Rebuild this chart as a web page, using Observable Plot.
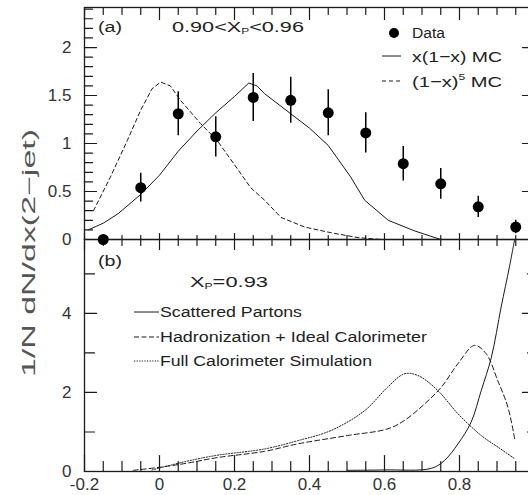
<!DOCTYPE html>
<html><head><meta charset="utf-8">
<script src="https://cdn.jsdelivr.net/npm/d3@7"></script>
<script src="https://cdn.jsdelivr.net/npm/@observablehq/plot@0.6"></script>
<style>
html,body{margin:0;padding:0;background:#fff;}
#wrap{position:relative;width:528px;height:495px;overflow:hidden;background:#fff;}
#wrap svg{position:absolute;left:0;}
</style></head><body><div id="wrap"></div>
<script>
// ---------- data ----------
const xBins    = [-0.15,-0.05,0.05,0.15,0.25,0.35,0.45,0.55,0.65,0.75,0.85,0.95];
const dataY    = [0,0.54,1.31,1.07,1.48,1.45,1.32,1.11,0.79,0.58,0.34,0.13];
const dataErr  = [0,0.15,0.23,0.21,0.25,0.24,0.24,0.21,0.18,0.16,0.11,0.07];

const mcLinX = [-0.19,-0.15,-0.11,-0.05,0.0,0.05,0.1,0.15,0.2,0.238,0.26,0.28,0.35,0.4,0.45,0.51,0.547,0.61,0.68,0.75];
const mcLinY = [0.10,0.17,0.27,0.47,0.67,0.92,1.13,1.32,1.49,1.63,1.60,1.52,1.31,1.16,0.98,0.65,0.41,0.20,0.09,0.0];

const mcPowX = [-0.176,-0.131,-0.086,-0.051,-0.02,0.003,0.029,0.056,0.109,0.154,0.198,0.243,0.28,0.324,0.387,0.458,0.529,0.59];
const mcPowY = [0.30,0.65,1.03,1.34,1.57,1.64,1.60,1.45,1.21,1.03,0.79,0.54,0.41,0.23,0.13,0.07,0.02,0.0];

const partonX = [0.50,0.6,0.725,0.76,0.796,0.831,0.858,0.885,0.911,0.933,0.947];
const partonY = [0.03,0.04,0.08,0.28,0.70,1.25,2.05,2.89,4.16,5.17,5.87];

const hadX = [-0.07,0.003,0.073,0.153,0.28,0.369,0.502,0.609,0.653,0.707,0.752,0.796,0.84,0.871,0.902,0.929,0.948];
const hadY = [0.03,0.11,0.21,0.35,0.51,0.70,0.91,1.08,1.29,1.71,2.14,2.73,3.19,2.98,2.30,1.63,0.78];

const calX = [-0.02,0.073,0.153,0.28,0.369,0.458,0.547,0.609,0.653,0.689,0.742,0.796,0.858,0.902,0.948];
const calY = [0.04,0.26,0.41,0.57,0.78,1.04,1.54,2.14,2.47,2.43,2.05,1.46,0.91,0.62,0.32];

const xTickLabels = [-0.2,0,0.2,0.4,0.6,0.8];
const yTickLabelsA = [0,0.5,1,1.5,2];
const yTickLabelsB = [0,2,4];
const xDomain = [-0.2, 1.0];
const yDomainA = [0, 2.417];
const yDomainB = [0, 5.87];

const yAxisTitle = "1/N  dN/dx(2\u2212jet)";
const legendA = ["Data", "x(1\u2212x)  MC", "(1\u2212x)", "5", "MC"];
const legendB = ["Scattered Partons", "Hadronization + Ideal Calorimeter", "Full Calorimeter Simulation"];

// ---------- helpers ----------
const FONT = "'Liberation Sans', Arial, sans-serif";
const INK = "#1a1a1a";
const pts = (xs, ys) => xs.map((x, i) => ({x, y: ys[i]}));
const round2 = v => +v.toFixed(2);
const xAll = d3.range(-4, 20).map(i => round2(i * 0.05));
const xMajor = xTickLabels;
const xMinor = xAll.filter(v => !xMajor.includes(v));
const yAllA = d3.range(1, 25).map(i => round2(i * 0.1));
const yMajorA = yAllA.filter(v => Math.abs(v * 2 - Math.round(v * 2)) < 1e-6);
const yMinorA = yAllA.filter(v => !yMajorA.includes(v));
const yMajorB = [2, 4];
const yMinorB = [1, 3, 5];
const tickShape = {draw(ctx, l) { ctx.moveTo(0, 0); ctx.lineTo(0, -l); }};
const tk = (data, o) => Plot.vector(data, {anchor: "start", shape: tickShape, stroke: INK, strokeWidth: 1.2, ...o});
const fmt = d => String(+(+d).toFixed(1));
const svgStyle = {maxWidth: "none", background: "transparent", overflow: "visible", fontFamily: FONT};

const points = xBins.map((x, i) => ({x, y: dataY[i], e: dataErr[i]}));

// ---------- panel (b) ----------
const panelB = Plot.plot({
  width: 536, height: 258,
  marginLeft: 84, marginRight: 2, marginTop: 2, marginBottom: 24,
  x: {domain: xDomain, axis: null},
  y: {domain: yDomainB, axis: null},
  style: svgStyle,
  marks: [
    Plot.frame({stroke: INK, strokeWidth: 1.3}),
    tk(xMajor, {x: d => d, y: yDomainB[0], length: 16, rotate: 0}),
    tk(xMinor, {x: d => d, y: yDomainB[0], length: 10, rotate: 0}),
    tk(xMajor, {x: d => d, y: yDomainB[1], length: 10, rotate: 180}),
    tk(xMinor, {x: d => d, y: yDomainB[1], length: 6, rotate: 180}),
    tk(yMajorB, {x: xDomain[0], y: d => d, length: 12, rotate: 90}),
    tk(yMinorB, {x: xDomain[0], y: d => d, length: 10, rotate: 90}),
    tk(yMajorB, {x: xDomain[1], y: d => d, length: 12, rotate: 270}),
    tk(yMinorB, {x: xDomain[1], y: d => d, length: 7, rotate: 270}),
    Plot.text(xTickLabels, {x: d => d, y: yDomainB[0], text: fmt, dy: 13, fontSize: 17, fill: "#333", fontFamily: FONT}),
    Plot.text(yTickLabelsB, {x: xDomain[0], y: d => d, text: fmt, dx: -13, textAnchor: "end", fontSize: 17, fill: "#333", fontFamily: FONT}),
    Plot.line(pts(calX, calY), {x: "x", y: "y", stroke: INK, strokeWidth: 1, strokeDasharray: "1.2,1.6", curve: "catmull-rom"}),
    Plot.line(pts(hadX, hadY), {x: "x", y: "y", stroke: INK, strokeWidth: 1, strokeDasharray: "5,3", curve: "catmull-rom"}),
    Plot.line(pts(partonX, partonY), {x: "x", y: "y", stroke: INK, strokeWidth: 1, curve: "catmull-rom"})
  ]
});
panelB.style.top = "237px";

// ---------- panel (a) ----------
const panelA = Plot.plot({
  width: 536, height: 241,
  marginLeft: 84, marginRight: 2, marginTop: 7, marginBottom: 2,
  x: {domain: xDomain, axis: null},
  y: {domain: yDomainA, axis: null},
  style: svgStyle,
  marks: [
    Plot.frame({stroke: INK, strokeWidth: 1.3}),
    tk(xMajor, {x: d => d, y: yDomainA[0], length: 6, rotate: 0}),
    tk(xMinor, {x: d => d, y: yDomainA[0], length: 4, rotate: 0}),
    tk(xMajor, {x: d => d, y: yDomainA[1], length: 12, rotate: 180}),
    tk(xMinor, {x: d => d, y: yDomainA[1], length: 7, rotate: 180}),
    tk(yMajorA, {x: xDomain[0], y: d => d, length: 12, rotate: 90}),
    tk(yMinorA, {x: xDomain[0], y: d => d, length: 8, rotate: 90}),
    tk(yMajorA, {x: xDomain[1], y: d => d, length: 12, rotate: 270}),
    tk(yMinorA, {x: xDomain[1], y: d => d, length: 6, rotate: 270}),
    Plot.text(yTickLabelsA, {x: xDomain[0], y: d => d, text: fmt, dx: -13, textAnchor: "end", fontSize: 17, fill: "#333", fontFamily: FONT}),
    Plot.line(pts(mcPowX, mcPowY), {x: "x", y: "y", stroke: INK, strokeWidth: 1, strokeDasharray: "4,3"}),
    Plot.line(pts(mcLinX, mcLinY), {x: "x", y: "y", stroke: INK, strokeWidth: 1}),
    Plot.ruleX(points.filter(d => d.e > 0), {x: "x", y1: d => d.y - d.e, y2: d => d.y + d.e, stroke: "#000", strokeWidth: 1.5}),
    Plot.dot(points, {x: "x", y: "y", r: 5.5, fill: "#000", stroke: "none"})
  ]
});
panelA.style.top = "0px";

const wrap = document.getElementById("wrap");
wrap.appendChild(panelB);
wrap.appendChild(panelA);

// ---------- annotations overlay ----------
const ov = d3.select(wrap).append("svg")
  .attr("width", 528).attr("height", 495)
  .style("top", "0px").style("pointer-events", "none")
  .attr("font-family", FONT).attr("fill", "#222");

function label(x, y, parts, len, size = 15.5) {
  const t = ov.append("text").attr("x", x).attr("y", y).attr("font-size", size);
  parts.forEach(p => {
    const s = t.append("tspan").text(p.t);
    if (p.sub) s.attr("font-size", size * 0.55).attr("dy", 1.5);
    if (p.up) s.attr("font-size", size * 0.6).attr("dy", -7);
    if (p.back) s.attr("dy", p.back);
  });
  if (len) t.attr("textLength", len).attr("lengthAdjust", "spacingAndGlyphs");
  return t;
}

// y title
ov.append("text")
  .attr("transform", "translate(35,253) rotate(-90)")
  .attr("text-anchor", "middle")
  .attr("font-size", 18)
  .attr("fill", "#555")
  .attr("textLength", 248).attr("lengthAdjust", "spacingAndGlyphs")
  .text(yAxisTitle);

// panel (a)
label(98, 32, [{t: "(a)"}], 24);
label(172, 32, [{t: "0.90<X"}, {t: "P", sub: true}, {t: "<0.96", back: -1.5}], 132);
ov.append("circle").attr("cx", 394).attr("cy", 33).attr("r", 5).attr("fill", "#000");
label(412, 38, [{t: legendA[0]}], 33);
ov.append("line").attr("x1", 382).attr("x2", 401).attr("y1", 56).attr("y2", 56).attr("stroke", INK);
label(412, 62, [{t: legendA[1]}], 90);
ov.append("line").attr("x1", 382).attr("x2", 401).attr("y1", 81).attr("y2", 81).attr("stroke", INK).attr("stroke-dasharray", "4,3");
label(412, 87, [{t: legendA[2]}, {t: legendA[3], up: true}, {t: "  " + legendA[4], back: 7}], 90);

// panel (b)
label(98, 266, [{t: "(b)"}], 24);
label(190, 287, [{t: "X"}, {t: "P", sub: true}, {t: "=0.93", back: -1.5}], 78);
ov.append("line").attr("x1", 134).attr("x2", 159).attr("y1", 312).attr("y2", 312).attr("stroke", INK);
label(160, 317, [{t: legendB[0]}], 142);
ov.append("line").attr("x1", 134).attr("x2", 159).attr("y1", 337).attr("y2", 337).attr("stroke", INK).attr("stroke-dasharray", "5,2.5");
label(160, 342, [{t: legendB[1]}], 267);
ov.append("line").attr("x1", 134).attr("x2", 159).attr("y1", 361).attr("y2", 361).attr("stroke", INK).attr("stroke-dasharray", "1.2,1.4");
label(160, 366, [{t: legendB[2]}], 212);
</script>
</body></html>
